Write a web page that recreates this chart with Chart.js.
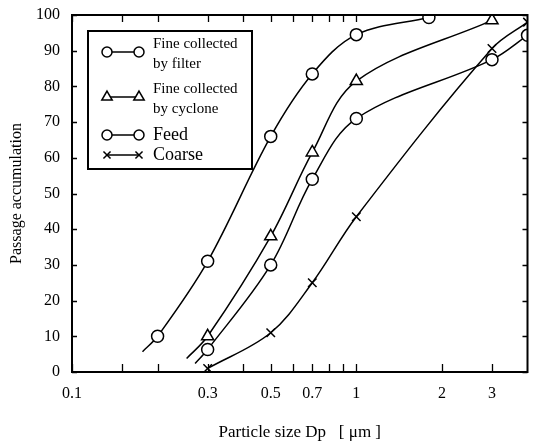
<!DOCTYPE html>
<html>
<head>
<meta charset="utf-8">
<script src="https://cdn.jsdelivr.net/npm/chart.js@4.4.0/dist/chart.umd.min.js"></script>
<style>
  html, body { margin: 0; background: #fff; }
</style>
</head>
<body>
<canvas id="grafica" width="536" height="447"></canvas>
<script>
// Particle size [um] and passage accumulation
const filterX = [0.2, 0.3, 0.5, 0.7, 1, 1.8];
const filterY = [10, 31, 66, 83.5, 94.5, 99.3];
const cycloneX = [0.3, 0.5, 0.7, 1, 3];
const cycloneY = [10, 38, 61.5, 81.5, 98.5];
const feedX = [0.3, 0.5, 0.7, 1, 3, 4];
const feedY = [6.3, 30, 54, 71, 87.5, 94.3];
const coarseX = [0.3, 0.5, 0.7, 1, 3, 4];
const coarseY = [1, 11, 25, 43.5, 90.6, 98];

// where the drawn curves begin below the first marker
const filterStart = [0.177, 5.7];
const cycloneStart = [0.253, 3.8];
const feedStart = [0.271, 2.4];

// x axis ticks and the labels printed under them
const xTickValues = [0.1, 0.15, 0.2, 0.3, 0.4, 0.5, 0.6, 0.7, 0.8, 0.9, 1, 2, 3];
const xTickLabels = ["0.1", "", "", "0.3", "", "0.5", "", "0.7", "", "", "1", "2", "3"];
const yTickValues = [0, 10, 20, 30, 40, 50, 60, 70, 80, 90, 100];

const serif = "'Liberation Serif', 'DejaVu Serif', serif";

function buildPoints(xs, ys, start) {
  const pts = xs.map((x, i) => ({ x: x, y: ys[i] }));
  if (start) pts.unshift({ x: start[0], y: start[1], end: true });
  return pts;
}

function serie(label, xs, ys, start, style, radius) {
  return {
    label: label,
    data: buildPoints(xs, ys, start),
    borderColor: "#000",
    backgroundColor: "#fff",
    borderWidth: 1.5,
    pointStyle: style,
    pointRadius: (c) => (c.raw && c.raw.end ? 0 : radius),
    pointBorderWidth: 1.5,
    pointBackgroundColor: "#fff",
    pointBorderColor: "#000",
    tension: 0.35,
  };
}

const legendItems = [
  { lines: ["Fine collected", "by filter"], style: "circle", size: 15 },
  { lines: ["Fine collected", "by cyclone"], style: "triangle", size: 15 },
  { lines: ["Feed"], style: "circle", size: 18 },
  { lines: ["Coarse"], style: "crossRot", size: 18 },
];

// frame, inward ticks and the boxed legend
const marcoPlugin = {
  id: "marco",
  afterDraw(chart) {
    const ctx = chart.ctx;
    const a = chart.chartArea;
    const xs = chart.scales.x;
    const ys = chart.scales.y;
    ctx.save();
    ctx.strokeStyle = "#000";
    ctx.lineWidth = 2;
    ctx.strokeRect(a.left, a.top, a.right - a.left, a.bottom - a.top);

    ctx.lineWidth = 1.3;
    ctx.beginPath();
    xTickValues.forEach((v) => {
      const px = Math.round(xs.getPixelForValue(v)) + 0.5;
      ctx.moveTo(px, a.bottom);
      ctx.lineTo(px, a.bottom - 8);
      if (v <= 1) {
        ctx.moveTo(px, a.top);
        ctx.lineTo(px, a.top + 7);
      }
    });
    yTickValues.forEach((v) => {
      const py = Math.round(ys.getPixelForValue(v)) + 0.5;
      ctx.moveTo(a.left, py);
      ctx.lineTo(a.left + 5, py);
      ctx.moveTo(a.right, py);
      ctx.lineTo(a.right - 5, py);
    });
    ctx.stroke();

    // legend box
    const bx = a.left + 16, by = a.top + 16, bw = 164, bh = 138;
    ctx.fillStyle = "#fff";
    ctx.fillRect(bx, by, bw, bh);
    ctx.lineWidth = 2;
    ctx.strokeRect(bx, by, bw, bh);

    const rows = [21, 66, 104, 124];
    legendItems.forEach((it, i) => {
      const cy = by + rows[i];
      const x1 = bx + 19, x2 = bx + 51;
      ctx.lineWidth = 1.5;
      ctx.strokeStyle = "#000";
      ctx.beginPath();
      ctx.moveTo(x1, cy);
      ctx.lineTo(x2, cy);
      ctx.stroke();
      ctx.fillStyle = "#fff";
      const opts = { pointStyle: it.style, radius: it.style === "triangle" ? 6 : 5, borderWidth: 1.5 };
      Chart.helpers.drawPoint(ctx, opts, x1, cy);
      Chart.helpers.drawPoint(ctx, opts, x2, cy);
      ctx.fillStyle = "#000";
      ctx.font = it.size + "px " + serif;
      ctx.textBaseline = "middle";
      ctx.textAlign = "left";
      if (it.lines.length === 2) {
        ctx.fillText(it.lines[0], bx + 65, cy - 8);
        ctx.fillText(it.lines[1], bx + 65, cy + 12);
      } else {
        ctx.fillText(it.lines[0], bx + 65, cy);
      }
    });
    ctx.restore();
  },
};

const ctx = document.getElementById("grafica");

new Chart(ctx, {
  type: "line",
  data: {
    datasets: [
      serie("Fine collected by filter", filterX, filterY, filterStart, "circle", 6),
      serie("Fine collected by cyclone", cycloneX, cycloneY, cycloneStart, "triangle", 7),
      serie("Feed", feedX, feedY, feedStart, "circle", 6),
      serie("Coarse", coarseX, coarseY, null, "crossRot", 6),
    ],
  },
  options: {
    responsive: false,
    animation: false,
    devicePixelRatio: 1,
    layout: { padding: { top: 15, right: 5, left: 0, bottom: 0 } },
    plugins: { legend: { display: false }, tooltip: { enabled: false } },
    scales: {
      x: {
        type: "logarithmic",
        min: 0.1,
        max: 4,
        grid: { display: false },
        border: { display: false },
        afterBuildTicks: (scale) => {
          scale.ticks = xTickValues.map((v) => ({ value: v }));
        },
        afterFit: (scale) => {
          scale.height = 75;
        },
        ticks: {
          autoSkip: false,
          maxRotation: 0,
          padding: 4,
          color: "#000",
          font: { family: serif, size: 16 },
          callback: (value, i) => xTickLabels[i],
        },
        title: {
          display: true,
          text: "Particle size Dp   [ μm ]",
          color: "#000",
          font: { family: serif, size: 17 },
          padding: { top: 0, bottom: 4 },
        },
      },
      y: {
        min: 0,
        max: 100,
        grid: { display: false },
        border: { display: false },
        afterFit: (scale) => {
          scale.width = 72;
        },
        ticks: {
          stepSize: 10,
          padding: 4,
          color: "#000",
          font: { family: serif, size: 16 },
        },
        title: {
          display: true,
          text: "Passage accumulation",
          color: "#000",
          font: { family: serif, size: 16 },
          padding: { top: 7, bottom: 8 },
        },
      },
    },
  },
  plugins: [marcoPlugin],
});
</script>
</body>
</html>
